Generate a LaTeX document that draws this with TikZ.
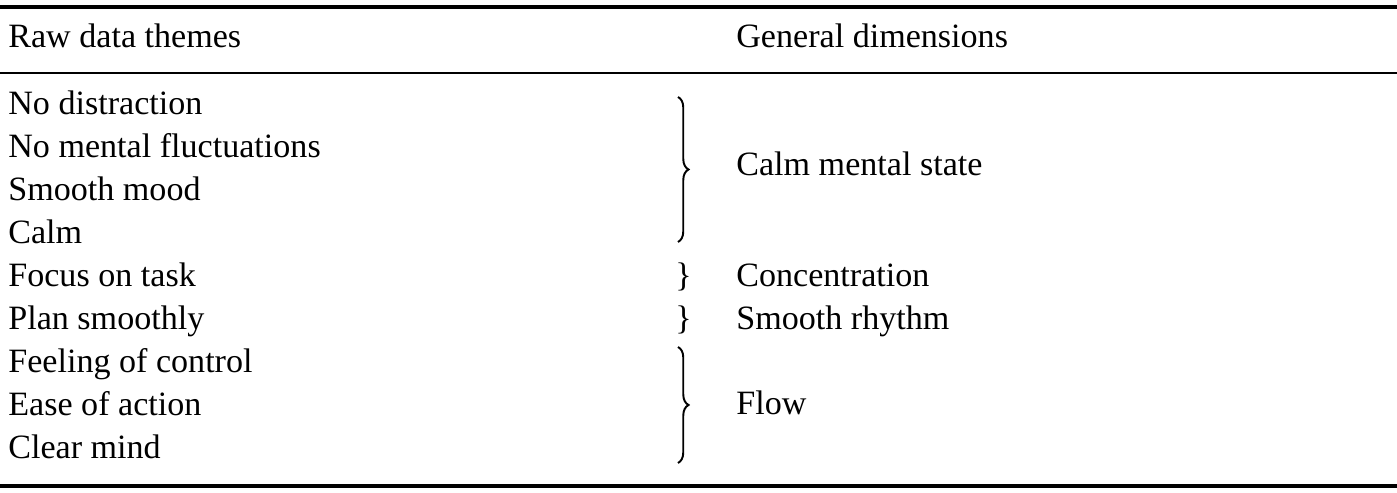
\documentclass[tikz,border=0pt]{standalone}
\usepackage{fontspec}
\setmainfont{Liberation Serif}
\usetikzlibrary{decorations.pathreplacing}
\begin{document}
\begin{tikzpicture}[x=0.02cm,y=0.02cm,
  cell/.style={anchor=base west,inner sep=0pt,font=\fontsize{19.4}{22}\selectfont},
  grp/.style={decorate,decoration={brace,amplitude=6pt},line width=1.1pt}]
\useasboundingbox (0,0) rectangle (1397,493);

% rules
\draw[line width=2.4pt] (0,486) -- (1397,486);
\draw[line width=1.2pt] (0,420) -- (1397,420);
\draw[line width=2.4pt] (0,7) -- (1397,7);

% header
\node(head-raw)[cell] at (8,445) {Raw data themes};
\node(head-dim)[cell] at (736,445) {General dimensions};

% raw themes
\foreach \t [count=\i from 0] in {No distraction,No mental fluctuations,Smooth mood,Calm,Focus on task,Plan smoothly,Feeling of control,Ease of action,Clear mind}
  \node(raw-\i)[cell] at (8,378-43*\i) {\t};

% dimensions
\node(dim-calm)[cell] at (736,317) {Calm mental state};
\node(dim-conc)[cell] at (736,206) {Concentration};
\node(dim-rhythm)[cell] at (736,163) {Smooth rhythm};
\node(dim-flow)[cell] at (736,78) {Flow};

% braces
\draw[grp] (678,396) -- (678,251);
\node(br-conc)[cell] at (675,206) {\}};
\node(br-rhythm)[cell] at (675,163) {\}};
\draw[grp] (678,146) -- (678,30);
\end{tikzpicture}
\end{document}
